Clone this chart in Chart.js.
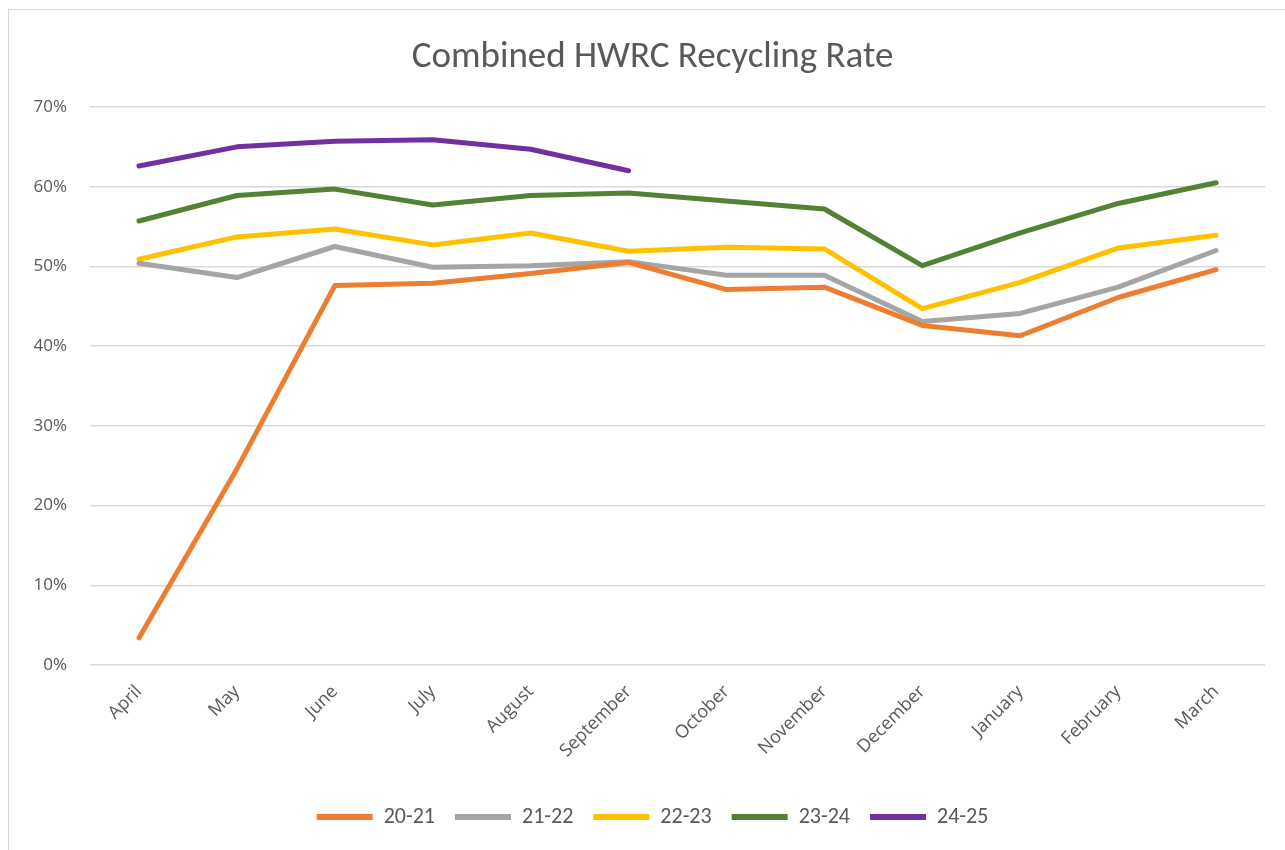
<!DOCTYPE html>
<html>
<head>
<meta charset="utf-8">
<script src="https://cdn.jsdelivr.net/npm/chart.js@4"></script>
<style>
  html, body { margin: 0; padding: 0; background: #fff; overflow: hidden; }
  #wrap { position: relative; width: 1285px; height: 850px; }
</style>
</head>
<body>
<div id="wrap"><canvas id="myChart" width="1285" height="850"></canvas></div>
<script>
const months = ['April', 'May', 'June', 'July', 'August', 'September', 'October', 'November', 'December', 'January', 'February', 'March'];
const yTicks = [0, 0.1, 0.2, 0.3, 0.4, 0.5, 0.6, 0.7];

const rate2021 = [0.034, 0.246, 0.476, 0.479, 0.491, 0.505, 0.471, 0.474, 0.426, 0.413, 0.461, 0.496];
const rate2122 = [0.504, 0.486, 0.525, 0.499, 0.501, 0.506, 0.489, 0.489, 0.431, 0.441, 0.474, 0.520];
const rate2223 = [0.509, 0.537, 0.547, 0.527, 0.542, 0.519, 0.524, 0.522, 0.447, 0.480, 0.523, 0.539];
const rate2324 = [0.557, 0.589, 0.597, 0.577, 0.589, 0.592, 0.582, 0.572, 0.501, 0.542, 0.579, 0.605];
const rate2425 = [0.626, 0.650, 0.657, 0.659, 0.647, 0.620];

const narrowFont = 'Carlito, "Liberation Sans Narrow", sans-serif';
const tickFont = '"Open Sans", "Noto Sans", sans-serif';
const textCol = '#595959';

const mkSet = (label, data, color) => ({
  label: label,
  data: data,
  borderColor: color,
  backgroundColor: color,
  borderWidth: 5,
  pointRadius: 0,
  tension: 0,
  borderCapStyle: 'round',
  borderJoinStyle: 'round'
});

// light frame round the chart, and centre title + legend on the frame, not the plot
const frame = {
  id: 'frame',
  afterLayout(chart) {
    [chart.titleBlock, chart.legend].forEach(b => {
      if (b) { b.left += 20; b.right += 20; }
    });
  },
  beforeDraw(chart) {
    const c = chart.ctx;
    c.save();
    c.fillStyle = '#fff';
    c.fillRect(0, 0, chart.width, chart.height);
    c.strokeStyle = '#d9d9d9';
    c.lineWidth = 1;
    c.strokeRect(8.5, 9.5, 1300, 900);
    c.restore();
  }
};

const ctx = document.getElementById('myChart').getContext('2d');
let myChart = new Chart(ctx, {
  type: 'line',
  data: {
    labels: months,
    datasets: [
      mkSet('20-21', rate2021, '#ED7D31'),
      mkSet('21-22', rate2122, '#A5A5A5'),
      mkSet('22-23', rate2223, '#FFC000'),
      mkSet('23-24', rate2324, '#548235'),
      mkSet('24-25', rate2425, '#7030A0')
    ]
  },
  options: {
    responsive: false,
    animation: false,
    layout: { padding: { left: 0, right: 20, top: 0, bottom: 12 } },
    plugins: {
      title: {
        display: true,
        text: 'Combined HWRC Recycling Rate',
        color: textCol,
        font: { family: narrowFont, size: 37, weight: 'normal' },
        padding: { top: 36, bottom: 26.6 }
      },
      legend: {
        position: 'bottom',
        labels: {
          color: textCol,
          font: { family: narrowFont, size: 22 },
          boxWidth: 56,
          boxHeight: 6,
          padding: 20,
          useBorderRadius: true,
          borderRadius: 3,
          generateLabels(chart) {
            return chart.data.datasets.map((ds, i) => ({
              text: ds.label,
              fillStyle: ds.borderColor,
              strokeStyle: ds.borderColor,
              lineWidth: 0,
              fontColor: textCol,
              datasetIndex: i
            }));
          }
        }
      },
      tooltip: { enabled: false }
    },
    scales: {
      x: {
        offset: true,
        grid: { display: false },
        border: { display: false },
        ticks: {
          color: textCol,
          font: { family: tickFont, size: 18 },
          minRotation: 45,
          maxRotation: 45,
          padding: 8
        },
        afterFit(scale) { scale.height = 121; }
      },
      y: {
        min: 0,
        max: 0.7,
        border: { display: false },
        grid: { color: '#d9d9d9', lineWidth: 1.5, drawTicks: false },
        afterBuildTicks(scale) { scale.ticks = yTicks.map(v => ({ value: v })); },
        ticks: {
          color: textCol,
          font: { family: tickFont, size: 17 },
          padding: 23,
          callback: v => Math.round(v * 100) + '%'
        },
        afterFit(scale) { scale.width = 90; }
      }
    }
  },
  plugins: [frame]
});
</script>
</body>
</html>
